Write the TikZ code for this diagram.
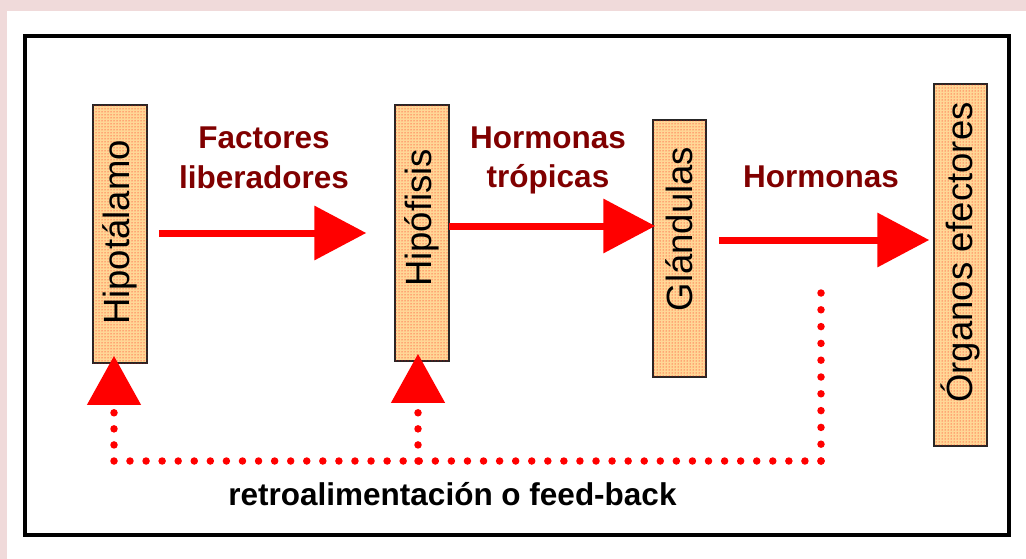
\documentclass[tikz,border=0pt]{standalone}
\usepackage{fontspec}
\setmainfont{Liberation Sans}
\usetikzlibrary{arrows.meta,calc,patterns}
\definecolor{pinkbg}{RGB}{240,218,218}
\definecolor{labred}{RGB}{128,0,0}
\definecolor{boxfill}{RGB}{255,215,150}
\definecolor{arrred}{RGB}{255,0,0}
\begin{document}
\begin{tikzpicture}[x=1pt,y=-1pt,
  organ/.style={draw=black!85, line width=1.5pt, fill=boxfill,
    postaction={pattern=dots, pattern color=arrred},
    inner sep=0pt, font=\fontsize{36.5}{40}\selectfont},
  bigarrow/.style={draw=arrred, line width=7pt, -{Triangle[length=52pt,width=53pt]}},
  fb/.style={draw=arrred, line width=7.5pt, line cap=round, dash pattern=on 0pt off 16.07pt},
  lab/.style={text=labred, font=\fontsize{31.5}{38}\selectfont\bfseries, inner sep=0pt, anchor=base}]
\useasboundingbox (0,0) rectangle (1026,559);
\fill[pinkbg] (0,0) rectangle (1026,559);
\fill[white] (7,11) rectangle (1026,559);
\draw[line width=4pt] (25,36.5) rectangle (1009,535);

\node[organ, minimum width=54pt, minimum height=258pt] (hipo) at (120,234) {\rotatebox{90}{\hspace{3pt}Hipotálamo}};
\node[organ, minimum width=54pt, minimum height=256pt] (hipof) at (422,233) {\rotatebox{90}{\hspace{30pt}Hipófisis}};
\node[organ, minimum width=53pt, minimum height=257pt] (glan) at (679.5,248.5) {\rotatebox{90}{\hspace{39pt}Glándulas}};
\node[organ, minimum width=53pt, minimum height=362pt] (org) at (960.5,265) {\rotatebox{90}{\hspace{25pt}Órganos efectores}};

\draw[bigarrow] ($(hipo.east)+(11,-1)$) -- ($(hipof.west)+(-28,0)$);
\draw[bigarrow] ($(hipof.east)+(-1,-7)$) -- ($(glan.west)+(3,-22.5)$);
\draw[bigarrow] ($(glan.east)+(12,-8.5)$) -- ($(org.west)+(-4,-25)$);

\node[lab] (fac1) at (264,149) {Factores};
\node[lab] (fac2) at (264,189) {liberadores};
\node[lab] (hor1) at (548,149) {Hormonas};
\node[lab] (hor2) at (548,188) {trópicas};
\node[lab] (hor3) at (821,187) {Hormonas};

\coordinate (fbtop) at (821,293);
\coordinate (fbr) at (821,461);
\coordinate (fbl) at (114,461);
\coordinate (fbm) at (418,461);
\draw[fb, dash pattern=on 0pt off 16.8pt] (fbtop) -- (fbr);
\draw[fb] (fbr) -- (fbl);
\draw[fb, -{Triangle[length=49pt,width=52pt]}] (fbl) -- ($(hipo.south)+(-6,-8)$);
\draw[fb, -{Triangle[length=49pt,width=52pt]}] (fbm) -- ($(hipof.south)+(-4,-8)$);

\node[lab, text=black] (retro) at (452.5,505) {retroalimentación o feed-back};
\end{tikzpicture}
\end{document}
